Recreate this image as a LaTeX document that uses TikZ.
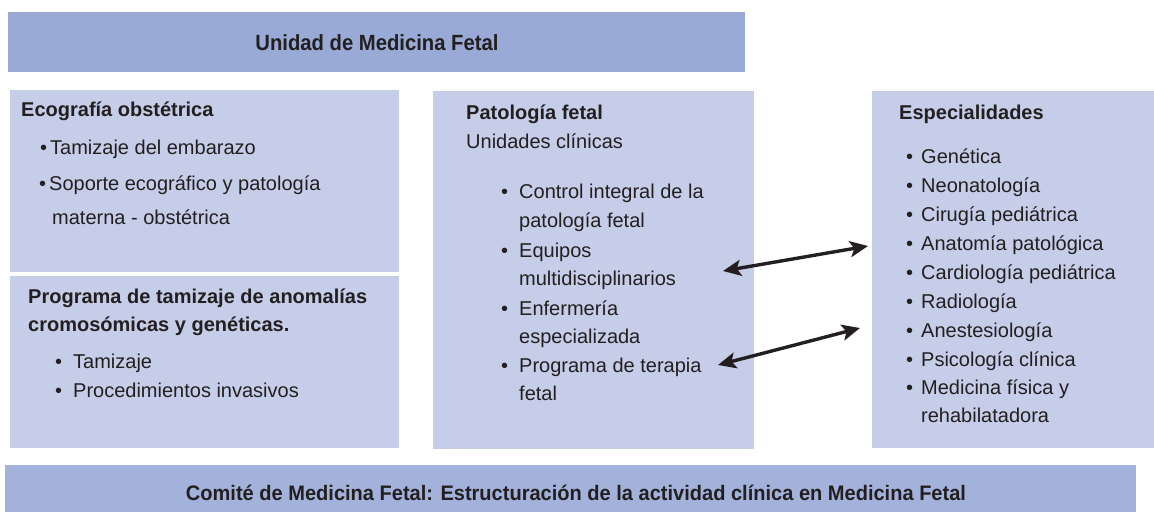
\documentclass[tikz,border=0pt]{standalone}
\usepackage{fontspec}
\setmainfont{Liberation Sans}
\usepackage{graphicx}
\usetikzlibrary{arrows.meta}
\definecolor{barblue}{RGB}{152,170,213}
\definecolor{boxblue}{RGB}{197,205,232}
\definecolor{footblue}{RGB}{163,178,219}
\definecolor{ink}{RGB}{35,31,32}
\newcommand{\itembul}[1][9pt]{\llap{\textbullet\hspace{#1}}}

\begin{document}
\begin{tikzpicture}[x=1pt,y=-1pt,
  panel/.style={fill=boxblue, anchor=north west, inner sep=0pt},
  txt/.style={anchor=base west, inner sep=0pt, text=ink, font=\fontsize{20}{24}\selectfont},
  head/.style={txt, font=\fontsize{20}{24}\selectfont\bfseries},
  bartxt/.style={anchor=base, inner sep=0pt, text=ink, font=\fontsize{22}{26}\selectfont\bfseries},
  link/.style={{Stealth[length=18pt,width=16pt,inset=4pt]}-{Stealth[length=18pt,width=16pt,inset=4pt]}, line width=3.4pt, ink}]
\useasboundingbox (0,0) rectangle (1154,512);
% title bar
\node[panel, fill=barblue, minimum width=737pt, minimum height=60pt] (unidad) at (8,12) {};
\node[bartxt] (unidad-t) at (377,50) {\resizebox{243pt}{\height}{Unidad de Medicina Fetal}};
% ecografia
\node[panel, minimum width=389pt, minimum height=182pt] (eco) at (10,90) {};
\node[head] (eco-h) at (21,116) {Ecografía obstétrica};
\node[txt] (eco-1) at (50,154) {\itembul[3pt]Tamizaje del embarazo};
\node[txt] (eco-2) at (49,190) {\itembul[3pt]Soporte ecográfico y patología};
\node[txt] (eco-3) at (52,224) {materna - obstétrica};
% programa de tamizaje
\node[panel, minimum width=389pt, minimum height=172pt] (prog) at (10,276) {};
\node[head] (prog-h1) at (28,303) {Programa de tamizaje de anomalías};
\node[head] (prog-h2) at (28,331) {cromosómicas y genéticas.};
\node[txt] (prog-1) at (73,368) {\itembul[11pt]Tamizaje};
\node[txt] (prog-2) at (73,397) {\itembul[11pt]Procedimientos invasivos};
% patologia fetal
\node[panel, minimum width=321pt, minimum height=358pt] (pat) at (433,91) {};
\node[head] (pat-h) at (466,119) {Patología fetal};
\node[txt] (pat-s) at (466,148) {Unidades clínicas};
\foreach \yy/\bb/\tx [count=\i] in {198/1/Control integral de la, 227/0/patología fetal,
    257/1/Equipos, 285/0/multidisciplinarios, 315/1/Enfermería, 343/0/especializada,
    372/1/Programa de terapia, 400/0/fetal}
  \node[txt] (pat-\i) at (519,\yy) {\ifnum\bb=1 \itembul[11pt]\fi\tx};
% especialidades
\node[panel, minimum width=282pt, minimum height=357pt] (esp) at (872,91) {};
\node[head] (esp-h) at (899,119) {Especialidades};
\foreach \yy/\bb/\tx [count=\i] in {163/1/Genética, 192/1/Neonatología, 221/1/Cirugía pediátrica,
    250/1/Anatomía patológica, 279/1/Cardiología pediátrica, 308/1/Radiología,
    337/1/Anestesiología, 366/1/Psicología clínica, 394/1/Medicina física y, 422/0/rehabilatadora}
  \node[txt] (esp-\i) at (921,\yy) {\ifnum\bb=1 \itembul[8pt]\fi\tx};
% comite
\node[panel, fill=footblue, minimum width=1131pt, minimum height=47pt] (comite) at (5,465) {};
\node[bartxt, font=\fontsize{21}{25}\selectfont\bfseries] (comite-t) at (576,500)
  {\resizebox{780pt}{\height}{Comité de Medicina Fetal: Estructuración de la actividad clínica en Medicina Fetal}};
% links
\coordinate (pat-in1) at (723,271);
\coordinate (esp-in1) at (868,246);
\coordinate (pat-in2) at (718,365);
\coordinate (esp-in2) at (860,328);
\draw[link] (pat-in1) -- (esp-in1);
\draw[link] (pat-in2) -- (esp-in2);
\end{tikzpicture}
\end{document}
